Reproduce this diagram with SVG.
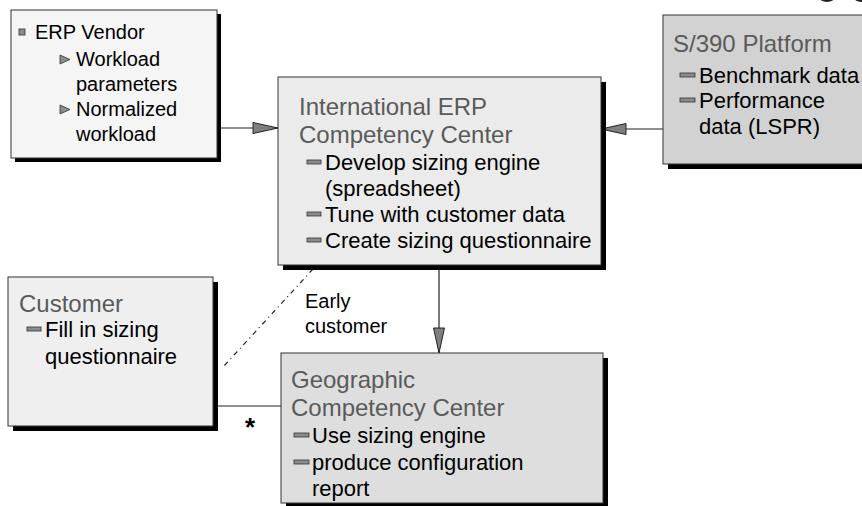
<svg xmlns="http://www.w3.org/2000/svg" width="862" height="506" viewBox="0 0 862 506">
<style>
  text { font-family: "Liberation Sans", Arial, sans-serif; }
  .box { stroke: #333333; stroke-width: 1; }
  .shadow { fill: #000000; }
  .title { font-size: 24px; fill: #5a5a5a; }
  .item { font-size: 22px; fill: #000000; }
  .small { font-size: 20px; fill: #000000; }
  .dash { fill: #8c8c8c; stroke: #333333; stroke-width: 0.8; }
  .conn { stroke: #222222; stroke-width: 1.2; fill: none; }
</style>
<defs>
  <marker id="arrow" markerUnits="userSpaceOnUse" viewBox="0 0 27 13" refX="26" refY="6.5" markerWidth="27" markerHeight="13" orient="auto">
    <path d="M1,1 L26,6.5 L1,12 Z" fill="#7f7f7f" stroke="#222222" stroke-width="1"/>
  </marker>
</defs>
<rect width="862" height="506" fill="#ffffff"/>

<g id="logo-fragment" fill="#222222">
  <ellipse cx="827" cy="-3" rx="8" ry="5"/>
  <ellipse cx="861" cy="-3" rx="7" ry="5"/>
</g>

<g id="connectors">
  <line class="conn" x1="221" y1="128" x2="278" y2="128" marker-end="url(#arrow)"/>
  <line class="conn" x1="663" y1="129" x2="601" y2="129" marker-end="url(#arrow)"/>
  <line class="conn" x1="439" y1="270" x2="439" y2="353" marker-end="url(#arrow)"/>
  <line class="conn" x1="218" y1="406" x2="281" y2="406"/>
  <line class="conn" x1="313" y1="269" x2="224" y2="366" stroke-dasharray="5 4 1 4"/>
  <text class="small" x="305" y="308">Early</text>
  <text class="small" x="305" y="333">customer</text>
  <text x="250" y="436" font-size="26" font-weight="bold" text-anchor="middle" fill="#000000">*</text>
</g>

<g id="erp-vendor">
  <rect class="shadow" x="15" y="14" width="206" height="148"/>
  <rect class="box" x="11" y="10" width="206" height="148" fill="#f5f5f5"/>
  <rect x="19" y="29" width="6" height="6" fill="#8c8c8c" stroke="#333333" stroke-width="0.8"/>
  <text class="small" x="35" y="39">ERP Vendor</text>
  <path d="M60,55 L70,59.5 L60,64 Z" class="dash"/>
  <text class="small" x="76" y="66">Workload</text>
  <text class="small" x="76" y="91">parameters</text>
  <path d="M60,105 L70,109.5 L60,114 Z" class="dash"/>
  <text class="small" x="76" y="116">Normalized</text>
  <text class="small" x="76" y="141">workload</text>
</g>

<g id="international-ercc">
  <rect class="shadow" x="283" y="82" width="323" height="188"/>
  <rect class="box" x="278" y="77" width="323" height="188" fill="#ebebeb"/>
  <text class="title" x="299" y="115">International ERP</text>
  <text class="title" x="299" y="143">Competency Center</text>
  <rect class="dash" x="307" y="160" width="14" height="4"/>
  <text class="item" x="325" y="170">Develop sizing engine</text>
  <text class="item" x="325" y="196">(spreadsheet)</text>
  <rect class="dash" x="307" y="212" width="14" height="4"/>
  <text class="item" x="325" y="222">Tune with customer data</text>
  <rect class="dash" x="307" y="238" width="14" height="4"/>
  <text class="item" x="325" y="248">Create sizing questionnaire</text>
</g>

<g id="s390-platform">
  <rect class="shadow" x="668" y="20" width="220" height="149"/>
  <rect class="box" x="663" y="15" width="220" height="149" fill="#d2d2d2"/>
  <text class="title" x="673" y="52">S/390 Platform</text>
  <rect class="dash" x="680" y="73" width="15" height="4"/>
  <text class="item" x="699" y="83">Benchmark data</text>
  <rect class="dash" x="680" y="98" width="15" height="4"/>
  <text class="item" x="699" y="108">Performance</text>
  <text class="item" x="699" y="134">data (LSPR)</text>
</g>

<g id="customer">
  <rect class="shadow" x="13" y="282" width="205" height="149"/>
  <rect class="box" x="8" y="277" width="205" height="149" fill="#efefef"/>
  <text class="title" x="19" y="312">Customer</text>
  <rect class="dash" x="27" y="327" width="14" height="4"/>
  <text class="item" x="45" y="337">Fill in sizing</text>
  <text class="item" x="45" y="364">questionnaire</text>
</g>

<g id="geographic-cc">
  <rect class="shadow" x="286" y="358" width="322" height="150"/>
  <rect class="box" x="281" y="353" width="322" height="150" fill="#dedede"/>
  <text class="title" x="291" y="388">Geographic</text>
  <text class="title" x="291" y="416">Competency Center</text>
  <rect class="dash" x="294" y="433" width="15" height="4"/>
  <text class="item" x="312" y="443">Use sizing engine</text>
  <rect class="dash" x="294" y="460" width="15" height="4"/>
  <text class="item" x="312" y="470">produce configuration</text>
  <text class="item" x="312" y="496">report</text>
</g>
</svg>
